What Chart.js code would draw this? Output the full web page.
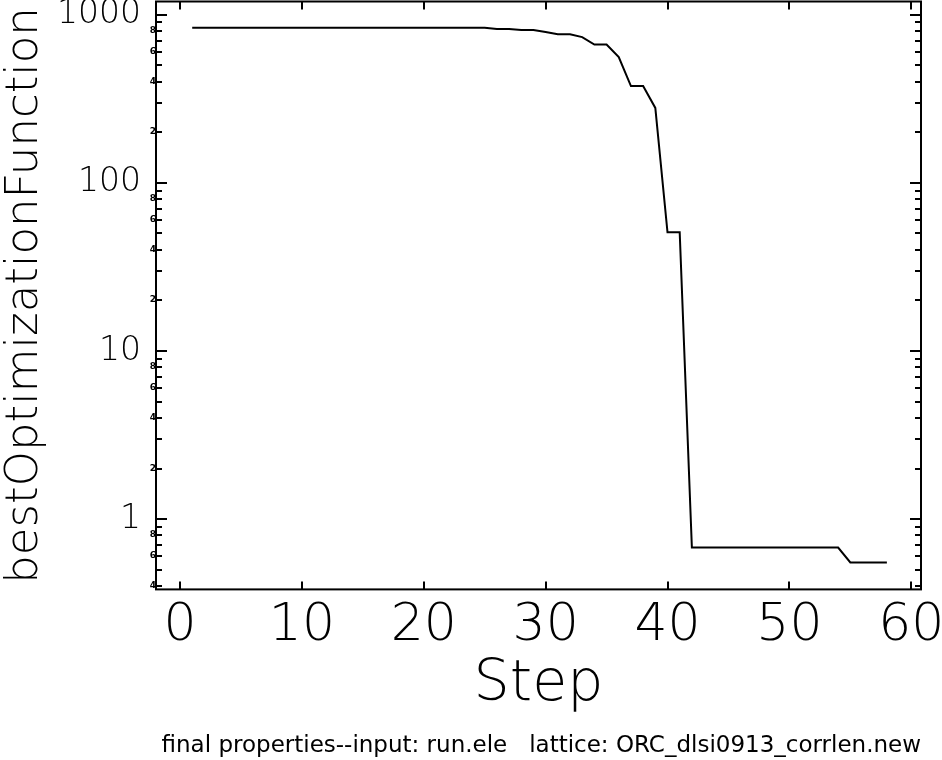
<!DOCTYPE html>
<html>
<head>
<meta charset="utf-8">
<script src="https://cdn.jsdelivr.net/npm/chart.js@4/dist/chart.umd.min.js"></script>
<style>
  html, body { margin: 0; padding: 0; background: #fff; }
  #wrap { width: 942px; height: 760px; }
</style>
</head>
<body>
<div id="wrap"><canvas id="optChart" width="942" height="760"></canvas></div>
<script>
// Data
const steps = [
  1, 2, 3, 4, 5, 6, 7, 8, 9, 10,
  11, 12, 13, 14, 15, 16, 17, 18, 19, 20,
  21, 22, 23, 24, 25, 26, 27, 28, 29, 30,
  31, 32, 33, 34, 35, 36, 37, 38, 39, 40,
  41, 42, 43, 44, 45, 46, 47, 48, 49, 50,
  51, 52, 53, 54, 55, 56, 57, 58
];
const bestValues = [
  837, 837, 837, 837, 837, 837, 837, 837, 837, 837,
  837, 837, 837, 837, 837, 837, 837, 837, 837, 837,
  837, 837, 837, 837, 837, 822, 822, 811, 811, 789,
  764, 764, 736, 665, 665, 560, 376, 376, 279, 50.8,
  50.8, 0.677, 0.677, 0.677, 0.677, 0.677, 0.677, 0.677, 0.677, 0.677,
  0.677, 0.677, 0.677, 0.677, 0.553, 0.553, 0.553, 0.553
];

// Axes
const xTickValues = [0, 10, 20, 30, 40, 50, 60];
const xRange = [-1.97, 60.8];
const yRange = [0.382, 1198];
const yDecades = [0.1, 1, 10, 100, 1000];
const yMajorTicks = [1, 10, 100, 1000];
const yMultipliers = [1, 2, 3, 4, 5, 6, 7, 8, 9];
const yMinorLabelled = [2, 4, 6, 8];

const FONT = 'DejaVu Sans';
const LABEL_TEXT = 'final properties--input: run.ele   lattice: ORC_dlsi0913_corrlen.new';

// all y ticks (1..9 in every decade), kept inside the axis range
const yTicks = [];
yDecades.forEach(d => {
  yMultipliers.forEach(m => {
    const v = d * m;
    if (v >= yRange[0] && v <= yRange[1]) yTicks.push({ value: v, digit: m, major: m === 1 });
  });
});

// IDL-like frame: box round the plot area, ticks pointing inward on all sides
const framePlugin = {
  id: 'idlFrame',
  afterDraw(chart) {
    const { ctx, chartArea: a, scales: { x, y } } = chart;
    ctx.save();
    ctx.strokeStyle = '#000';
    ctx.lineWidth = 2;
    ctx.strokeRect(a.left, a.top, a.right - a.left, a.bottom - a.top);

    ctx.beginPath();
    xTickValues.forEach(v => {
      const px = Math.round(x.getPixelForValue(v));
      ctx.moveTo(px, a.bottom);
      ctx.lineTo(px, a.bottom - 8);
      ctx.moveTo(px, a.top);
      ctx.lineTo(px, a.top + 8);
    });
    yTicks.forEach(t => {
      const py = Math.round(y.getPixelForValue(t.value));
      const len = t.major ? 11 : 6;
      ctx.moveTo(a.left, py);
      ctx.lineTo(a.left + len, py);
      ctx.moveTo(a.right, py);
      ctx.lineTo(a.right - len, py);
    });
    ctx.stroke();

    // tiny labels on the minor ticks
    ctx.fillStyle = '#000';
    ctx.font = 'bold 9px ' + FONT;
    ctx.textAlign = 'right';
    ctx.textBaseline = 'middle';
    yTicks.forEach(t => {
      if (!t.major && yMinorLabelled.includes(t.digit)) {
        ctx.fillText(String(t.digit), a.left, Math.round(y.getPixelForValue(t.value)));
      }
    });
    ctx.restore();
  }
};

const ctx = document.getElementById('optChart').getContext('2d');
new Chart(ctx, {
  type: 'line',
  data: {
    datasets: [{
      label: 'bestOptimizationFunction',
      data: steps.map((s, i) => ({ x: s, y: bestValues[i] })),
      borderColor: '#000',
      borderWidth: 2,
      pointRadius: 0,
      tension: 0,
      fill: false
    }]
  },
  options: {
    responsive: false,
    animation: false,
    layout: { padding: { left: 0, top: 1.5, right: 21, bottom: 0 } },
    plugins: {
      legend: { display: false },
      tooltip: { enabled: false },
      title: {
        display: true,
        position: 'bottom',
        align: 'end',
        text: LABEL_TEXT,
        color: '#000',
        font: { family: FONT, size: 23, weight: 'normal' },
        padding: { top: 9, bottom: 0 }
      }
    },
    scales: {
      x: {
        type: 'linear',
        min: xRange[0],
        max: xRange[1],
        afterBuildTicks: s => { s.ticks = xTickValues.map(v => ({ value: v })); },
        afterFit: s => { s.height = 134; s.paddingLeft = 0; s.paddingRight = 0; },
        grid: { display: false, drawTicks: false },
        border: { display: false },
        ticks: {
          autoSkip: false,
          maxRotation: 0,
          padding: 6,
          color: '#000',
          font: { family: FONT, size: 52, weight: 200 }
        },
        title: {
          display: true,
          text: 'Step',
          color: '#000',
          font: { family: FONT, size: 57, weight: 200 },
          padding: { top: 0, bottom: 4 }
        }
      },
      y: {
        type: 'logarithmic',
        min: yRange[0],
        max: yRange[1],
        afterBuildTicks: s => { s.ticks = yTicks.map(t => ({ value: t.value, major: t.major })); },
        afterFit: s => { s.width = 156; s.paddingTop = 0; s.paddingBottom = 0; },
        grid: { display: false, drawTicks: false },
        border: { display: false },
        ticks: {
          autoSkip: false,
          padding: 15,
          color: '#000',
          font: { family: FONT, size: 33, weight: 200 },
          callback: v => (yMajorTicks.includes(v) ? String(v) : '')
        },
        title: {
          display: true,
          text: 'bestOptimizationFunction',
          color: '#000',
          font: { family: FONT, size: 45, weight: 200 },
          padding: { top: -2, bottom: 0 }
        }
      }
    }
  },
  plugins: [framePlugin]
});
</script>
</body>
</html>
